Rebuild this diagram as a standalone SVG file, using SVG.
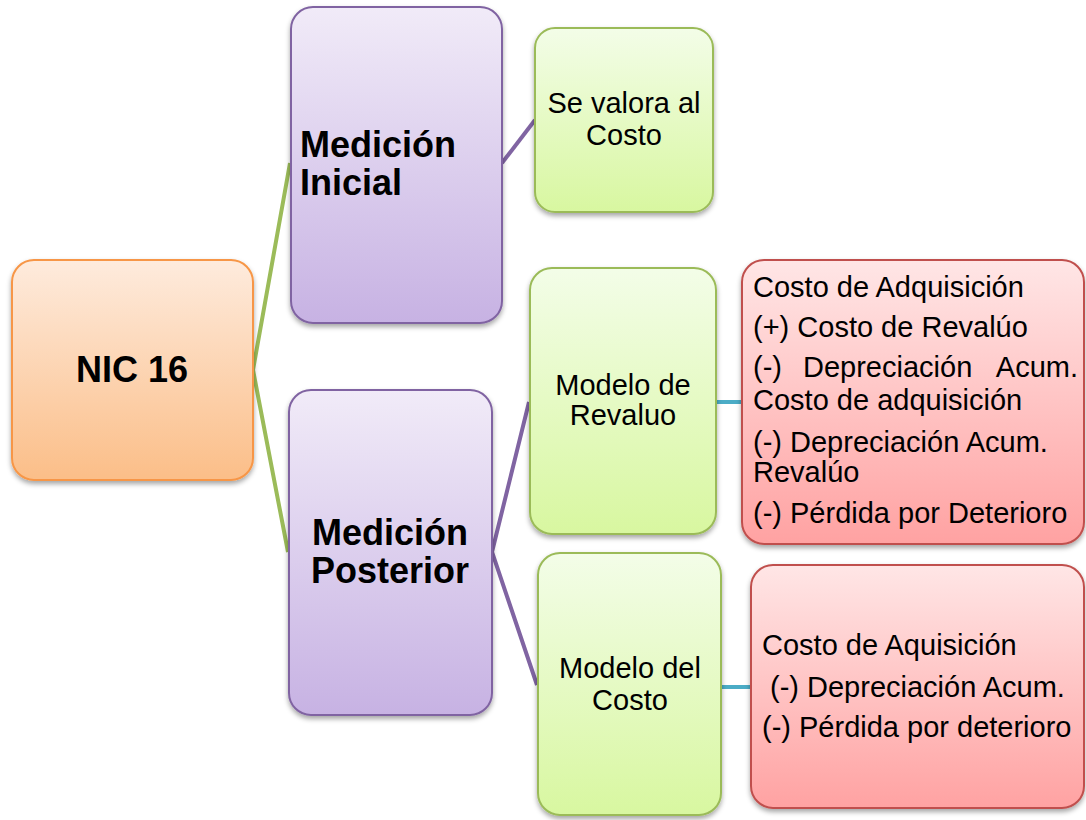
<svg xmlns="http://www.w3.org/2000/svg" width="1086" height="820" viewBox="0 0 1086 820">
<defs>
<linearGradient id="gOrange" x1="0" y1="0" x2="0" y2="1"><stop offset="0" stop-color="#FEEBDD"/><stop offset="1" stop-color="#FBBE88"/></linearGradient>
<linearGradient id="gPurple" x1="0" y1="0" x2="0" y2="1"><stop offset="0" stop-color="#F1EBF8"/><stop offset="1" stop-color="#C7B2E3"/></linearGradient>
<linearGradient id="gGreen" x1="0" y1="0" x2="0" y2="1"><stop offset="0" stop-color="#F3FDE8"/><stop offset="1" stop-color="#D8F7A0"/></linearGradient>
<linearGradient id="gRed" x1="0" y1="0" x2="0" y2="1"><stop offset="0" stop-color="#FFE6E6"/><stop offset="1" stop-color="#FFA2A2"/></linearGradient>
<filter id="sh" x="-10%" y="-10%" width="120%" height="125%"><feDropShadow dx="0" dy="3" stdDeviation="2.5" flood-color="#000" flood-opacity="0.35"/></filter>
</defs>
<style>
.orange{fill:url(#gOrange);stroke:#F79646;stroke-width:2;filter:url(#sh)}
.purple{fill:url(#gPurple);stroke:#8064A2;stroke-width:2;filter:url(#sh)}
.green{fill:url(#gGreen);stroke:#9BBB59;stroke-width:2;filter:url(#sh)}
.red{fill:url(#gRed);stroke:#C0504D;stroke-width:2;filter:url(#sh)}
text{font-family:"Liberation Sans",Arial,sans-serif;fill:#000}
.b{font-weight:bold;font-size:36px}
.r{font-size:29px}
.c{text-anchor:middle}
.lg{stroke:#9BBB59;stroke-width:4;fill:none}
.lp{stroke:#8064A2;stroke-width:4;fill:none}
.lb{stroke:#4BACC6;stroke-width:4;fill:none}
</style>
<rect width="1086" height="820" fill="#fff"/>
<g id="connectors">
<polyline class="lg" points="290,163 253,370 288,552"/>
<line class="lp" x1="502" y1="163" x2="535" y2="120"/>
<polyline class="lp" points="529,402 492,552 537,685"/>
<line class="lb" x1="716" y1="402" x2="742" y2="402"/>
<line class="lb" x1="721" y1="687" x2="751" y2="687"/>
</g>
<g id="nic16">
<rect class="orange" x="12" y="260" width="241" height="220" rx="22"/>
<text class="b c" x="132" y="382">NIC 16</text>
</g>
<g id="medicion-inicial">
<rect class="purple" x="291" y="7" width="211" height="316" rx="22"/>
<text class="b" x="300" y="157">Medición</text>
<text class="b" x="300" y="195">Inicial</text>
</g>
<g id="se-valora">
<rect class="green" x="535" y="28" width="178" height="184" rx="20"/>
<text class="r c" x="624" y="113">Se valora al</text>
<text class="r c" x="624" y="145">Costo</text>
</g>
<g id="medicion-posterior">
<rect class="purple" x="289" y="390" width="203" height="325" rx="22"/>
<text class="b c" x="390" y="545">Medición</text>
<text class="b c" x="390" y="583">Posterior</text>
</g>
<g id="modelo-revaluo">
<rect class="green" x="530" y="268" width="186" height="266" rx="22"/>
<text class="r c" x="623" y="395">Modelo de</text>
<text class="r c" x="623" y="425">Revaluo</text>
</g>
<g id="modelo-costo">
<rect class="green" x="538" y="553" width="183" height="262" rx="22"/>
<text class="r c" x="630" y="678">Modelo del</text>
<text class="r c" x="630" y="710">Costo</text>
</g>
<g id="revaluo-detalle">
<rect class="red" x="742" y="260" width="342" height="284" rx="22"/>
<text class="r" x="753" y="297">Costo de Adquisición</text>
<text class="r" x="753" y="337">(+) Costo de Revalúo</text>
<text class="r" x="753" y="377">(-)</text>
<text class="r" x="803" y="377">Depreciación</text>
<text class="r" x="1078" y="377" text-anchor="end">Acum.</text>
<text class="r" x="753" y="410">Costo de adquisición</text>
<text class="r" x="753" y="452">(-) Depreciación Acum.</text>
<text class="r" x="753" y="482">Revalúo</text>
<text class="r" x="753" y="523">(-) Pérdida por Deterioro</text>
</g>
<g id="costo-detalle">
<rect class="red" x="751" y="565" width="333" height="243" rx="22"/>
<text class="r" x="762" y="655">Costo de Aquisición</text>
<text class="r" x="770" y="697">(-) Depreciación Acum.</text>
<text class="r" x="762" y="737">(-) Pérdida por deterioro</text>
</g>
</svg>
